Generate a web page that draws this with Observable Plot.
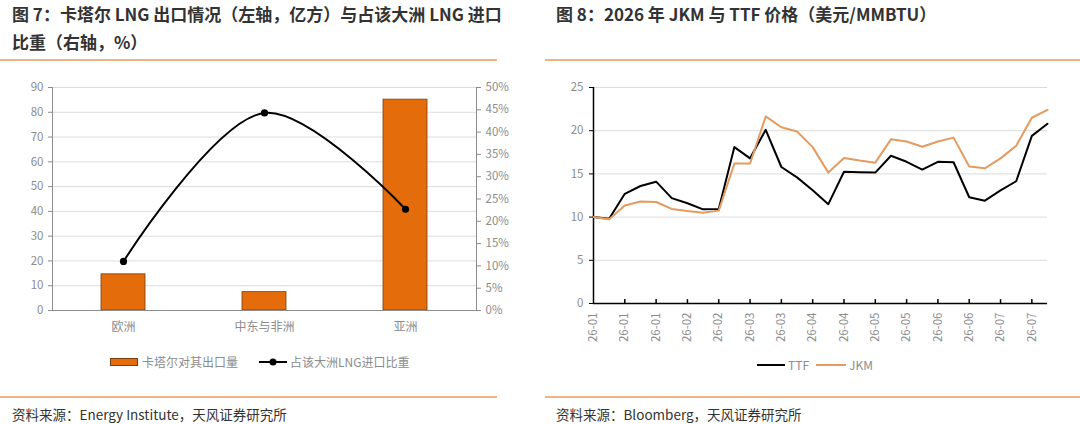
<!DOCTYPE html>
<html>
<head>
<meta charset="utf-8">
<script src="https://cdn.jsdelivr.net/npm/d3@7"></script>
<script src="https://cdn.jsdelivr.net/npm/@observablehq/plot@0.6"></script>
<style>
  body { margin:0; width:1080px; height:424px; position:relative; background:#fff; overflow:hidden;
         font-family:"Noto Sans CJK SC","Noto Sans",sans-serif; }
  .abs { position:absolute; }
  .title { font-size:17px; font-weight:bold; color:#333; line-height:28px; white-space:nowrap; }
  .rule { height:2px; background:#F4B183; }
  .src { font-size:13.5px; color:#333; line-height:18px; white-space:nowrap; }
  .leg { font-size:12px; color:#8c8c8c; line-height:14px; white-space:nowrap; display:flex; align-items:center; }
</style>
</head>
<body>
<div class="abs title" style="left:12px;top:0px;">图 7：卡塔尔 LNG 出口情况（左轴，亿方）与占该大洲 LNG 进口<br>比重（右轴，%）</div>
<div class="abs title" style="left:556px;top:0px;">图 8：2026 年 JKM 与 TTF 价格（美元/MMBTU）</div>
<div class="abs rule" style="left:0;top:59px;width:497px;"></div>
<div class="abs rule" style="left:545px;top:59px;width:535px;"></div>
<div id="left" class="abs" style="left:0;top:78px;"></div>
<div id="right" class="abs" style="left:540px;top:78px;"></div>

<div class="abs leg" style="left:110px;top:355px;">
  <span style="display:inline-block;width:26px;height:6px;background:#E46C0A;border:1px solid #7a3d10;margin-right:4px;"></span>卡塔尔对其出口量
  <svg width="28" height="10" style="margin-left:21px;margin-right:3px;"><line x1="0" y1="5" x2="28" y2="5" stroke="#000" stroke-width="2"/><circle cx="14" cy="5" r="3.5" fill="#000"/></svg>占该大洲LNG进口比重
</div>
<div class="abs leg" style="left:757px;top:358px;">
  <svg width="28" height="6" style="margin-right:3px;"><line x1="0" y1="3" x2="28" y2="3" stroke="#000" stroke-width="2"/></svg>TTF
  <svg width="30" height="6" style="margin-left:7px;margin-right:3px;"><line x1="0" y1="3" x2="30" y2="3" stroke="#E39B60" stroke-width="2"/></svg>JKM
</div>

<div class="abs rule" style="left:0;top:396px;width:497px;"></div>
<div class="abs rule" style="left:545px;top:396px;width:535px;"></div>
<div class="abs src" style="left:12px;top:405px;">资料来源：Energy Institute，天风证券研究所</div>
<div class="abs src" style="left:556px;top:405px;">资料来源：Bloomberg，天风证券研究所</div>

<script>
// ---- Figure 7 data ----
const categories = ["欧洲", "中东与非洲", "亚洲"];
const exportVolume = [14.6, 7.4, 85.1];   // 亿方 (left axis)
const importShare = [11.0, 44.3, 22.7];   // % (right axis)
const leftTicks = [0, 10, 20, 30, 40, 50, 60, 70, 80, 90];
const shareTicks = [0, 5, 10, 15, 20, 25, 30, 35, 40, 45, 50];

// ---- Figure 8 data ----
const ttf = [10.0, 9.8, 12.7, 13.6, 14.1, 12.2, 11.6, 10.9, 10.95, 18.1,
             16.8, 20.1, 15.8, 14.6, 13.1, 11.5, 15.25, 15.2, 15.15, 17.1,
             16.4, 15.5, 16.4, 16.35, 12.3, 11.9, 13.1, 14.15, 19.4, 20.8];
const jkm = [10.0, 9.75, 11.35, 11.8, 11.75, 10.95, 10.7, 10.5, 10.75, 16.2,
             16.2, 21.65, 20.4, 19.9, 18.1, 15.15, 16.85, 16.55, 16.3, 19.0,
             18.75, 18.15, 18.75, 19.2, 15.85, 15.65, 16.8, 18.25, 21.5, 22.4];
const dateLabels = ["26-01", "26-01", "26-01", "26-02", "26-02", "26-03", "26-03", "26-04",
                    "26-04", "26-05", "26-05", "26-06", "26-06", "26-07", "26-07"];
const priceTicks = [0, 5, 10, 15, 20, 25];

const font = "'Noto Sans CJK SC','Noto Sans',sans-serif";
const shareMax = 50, volMax = 90;

const rows7 = categories.map((c, i) => ({cat: c, vol: exportVolume[i], share: importShare[i]}));
const shareToY = s => s * volMax / shareMax;

const left = Plot.plot({
  width: 540, height: 262,
  marginTop: 9, marginBottom: 30, marginLeft: 52, marginRight: 64,
  style: {fontFamily: font, fontSize: "11.5px", color: "#8c8c8c", background: "transparent"},
  x: {domain: categories, paddingInner: 0.69, paddingOuter: 0.345},
  y: {domain: [0, volMax]},
  marks: [
    Plot.gridY(leftTicks.slice(1), {stroke: "#dcdcdc", strokeOpacity: 1}),
    Plot.frame({anchor: "left", stroke: "#8c8c8c"}),
    Plot.frame({anchor: "right", stroke: "#8c8c8c"}),
    Plot.axisY(leftTicks, {anchor: "left", tickSize: 4, tickPadding: 5, stroke: "#8c8c8c", fill: "#8c8c8c", label: null}),
    Plot.axisY(shareTicks.map(shareToY), {anchor: "right", tickSize: 4, tickPadding: 5, stroke: "#8c8c8c", fill: "#8c8c8c",
      label: null, tickFormat: d => Math.round(d * shareMax / volMax) + "%"}),
    Plot.axisX({anchor: "bottom", tickSize: 0, tickPadding: 12, fill: "#8c8c8c", label: null, fontSize: "12px"}),
    Plot.barY(rows7, {x: "cat", y: "vol", fill: "#E46C0A", stroke: "#7a3d10", strokeWidth: 0.8}),
    Plot.ruleY([0], {stroke: "#8c8c8c"}),
    Plot.lineY(rows7, {x: "cat", y: d => shareToY(d.share), curve: "catmull-rom", stroke: "#000", strokeWidth: 2}),
    Plot.dot(rows7, {x: "cat", y: d => shareToY(d.share), r: 3.6, fill: "#000"})
  ]
});
document.getElementById("left").appendChild(left);

const tickIdx = dateLabels.map((_, k) => k * 2);
const series8 = [
  ...ttf.map((v, i) => ({i, v, s: "TTF"})),
  ...jkm.map((v, i) => ({i, v, s: "JKM"}))
];

const right = Plot.plot({
  width: 540, height: 272,
  marginTop: 9, marginBottom: 47, marginLeft: 53, marginRight: 33,
  style: {fontFamily: font, fontSize: "11.5px", color: "#8c8c8c", background: "transparent"},
  x: {domain: [0, ttf.length - 1]},
  y: {domain: [0, 25]},
  marks: [
    Plot.gridY(priceTicks.slice(1), {stroke: "#dcdcdc", strokeOpacity: 1}),
    Plot.axisY(priceTicks, {tickSize: 4, tickPadding: 6, stroke: "#000", fill: "#8c8c8c", label: null}),
    Plot.axisX(tickIdx, {tickRotate: -90, tickSize: 0, tickPadding: 9, fill: "#8c8c8c", label: null,
      tickFormat: i => dateLabels[i / 2]}),
    Plot.ruleX(tickIdx.slice(1), {y1: 0, y2: 0.45, stroke: "#000", strokeWidth: 1.5}),
    Plot.ruleX([0], {stroke: "#000", strokeWidth: 1.5}),
    Plot.ruleY([0], {stroke: "#000", strokeWidth: 1.5}),
    Plot.lineY(series8.filter(d => d.s === "TTF"), {x: "i", y: "v", stroke: "#000", strokeWidth: 2}),
    Plot.lineY(series8.filter(d => d.s === "JKM"), {x: "i", y: "v", stroke: "#E39B60", strokeWidth: 2})
  ]
});
document.getElementById("right").appendChild(right);
</script>
</body>
</html>
